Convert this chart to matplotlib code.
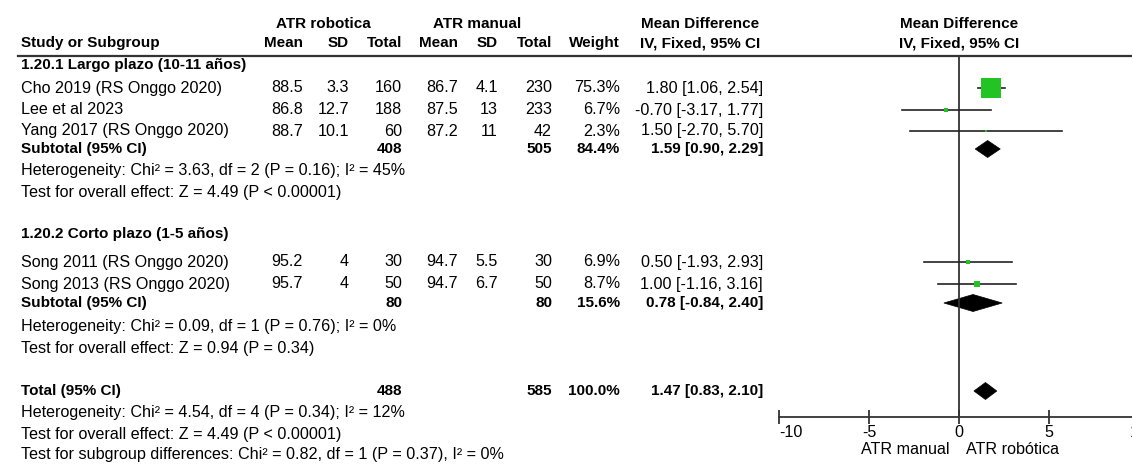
import matplotlib
matplotlib.use('Agg')
import matplotlib.pyplot as plt
from matplotlib.patches import Polygon
from matplotlib.lines import Line2D

plt.rcParams['font.family'] = ['Liberation Sans', 'DejaVu Sans']
plt.rcParams['axes.unicode_minus'] = False

# study level data
studies = ['Cho 2019 (RS Onggo 2020)', 'Lee et al 2023', 'Yang 2017 (RS Onggo 2020)',
           'Song 2011 (RS Onggo 2020)', 'Song 2013 (RS Onggo 2020)']
rob_mean = [88.5, 86.8, 88.7, 95.2, 95.7]
rob_sd = [3.3, 12.7, 10.1, 4, 4]
rob_n = [160, 188, 60, 30, 50]
man_mean = [86.7, 87.5, 87.2, 94.7, 94.7]
man_sd = [4.1, 13, 11, 5.5, 6.7]
man_n = [230, 233, 42, 30, 50]
weight = [75.3, 6.7, 2.3, 6.9, 8.7]
md = [1.80, -0.70, 1.50, 0.50, 1.00]
md_lo = [1.06, -3.17, -2.70, -1.93, -1.16]
md_hi = [2.54, 1.77, 5.70, 2.93, 3.16]

# subgroups
groups = ['1.20.1 Largo plazo (10-11 años)', '1.20.2 Corto plazo (1-5 años)']
sub_rob_n = [408, 80]
sub_man_n = [505, 80]
sub_weight = [84.4, 15.6]
sub_md = [1.59, 0.78]
sub_lo = [0.90, -0.84]
sub_hi = [2.29, 2.40]
sub_het = ['Heterogeneity: Chi² = 3.63, df = 2 (P = 0.16); I² = 45%',
           'Heterogeneity: Chi² = 0.09, df = 1 (P = 0.76); I² = 0%']
sub_z = ['Test for overall effect: Z = 4.49 (P < 0.00001)',
         'Test for overall effect: Z = 0.94 (P = 0.34)']

# overall
tot_rob_n = 488
tot_man_n = 585
tot_weight = 100.0
tot_md, tot_lo, tot_hi = 1.47, 0.83, 2.10
tot_notes = ['Heterogeneity: Chi² = 4.54, df = 4 (P = 0.34); I² = 12%',
             'Test for overall effect: Z = 4.49 (P < 0.00001)',
             'Test for subgroup differences: Chi² = 0.82, df = 1 (P = 0.37), I² = 0%']

# layout (pixel rows)
W, H = 1132, 468
fs = 11.6   # regular text
fb = 11     # bold text
study_y = [88, 110, 131, 262, 284]
group_y = [65, 234]
sub_y = [149, 303]
sub_note_y = [(170, 192), (326, 348)]
tot_y = 391
tot_note_y = [413, 434, 455]
col_x = [303, 349, 402, 458, 498, 552, 620, 763]

fig = plt.figure(figsize=(W / 100, H / 100), dpi=100)
ax = fig.add_axes([0, 0, 1, 1])
ax.set_xlim(0, W)
ax.set_ylim(H, 0)
ax.axis('off')


def ci_text(m, l, h):
    return '%.2f [%.2f, %.2f]' % (m, l, h)


# headers
ax.text(323, 24, 'ATR robotica', ha='center', va='center', fontsize=fb, weight='bold')
ax.text(477, 24, 'ATR manual', ha='center', va='center', fontsize=fb, weight='bold')
ax.text(700, 24, 'Mean Difference', ha='center', va='center', fontsize=fb, weight='bold')
ax.text(959, 24, 'Mean Difference', ha='center', va='center', fontsize=fb, weight='bold')
ax.text(21, 43, 'Study or Subgroup', ha='left', va='center', fontsize=fb, weight='bold')
for x, h in zip(col_x[:7], ['Mean', 'SD', 'Total', 'Mean', 'SD', 'Total', 'Weight']):
    ax.text(x, 43, h, ha='right', va='center', fontsize=fb, weight='bold')
ax.text(700, 43, 'IV, Fixed, 95% CI', ha='center', va='center', fontsize=fb, weight='bold')
ax.text(959, 43, 'IV, Fixed, 95% CI', ha='center', va='center', fontsize=fb, weight='bold')
ax.add_line(Line2D([18, W], [56, 56], color='#333333', lw=1.6))

# study rows
for i, name in enumerate(studies):
    y = study_y[i]
    vals = ['%.1f' % rob_mean[i], '%g' % rob_sd[i], str(rob_n[i]),
            '%.1f' % man_mean[i], '%g' % man_sd[i], str(man_n[i]),
            '%.1f%%' % weight[i], ci_text(md[i], md_lo[i], md_hi[i])]
    ax.text(21, y, name, ha='left', va='center', fontsize=fs)
    for x, v in zip(col_x, vals):
        ax.text(x, y, v, ha='right', va='center', fontsize=fs)

# subgroup rows
for g in range(len(groups)):
    ax.text(21, group_y[g], groups[g], ha='left', va='center', fontsize=fb, weight='bold')
    y = sub_y[g]
    ax.text(21, y, 'Subtotal (95% CI)', ha='left', va='center', fontsize=fb, weight='bold')
    for x, v in zip([col_x[2], col_x[5], col_x[6], col_x[7]],
                    [str(sub_rob_n[g]), str(sub_man_n[g]), '%.1f%%' % sub_weight[g],
                     ci_text(sub_md[g], sub_lo[g], sub_hi[g])]):
        ax.text(x, y, v, ha='right', va='center', fontsize=fb, weight='bold')
    ax.text(21, sub_note_y[g][0], sub_het[g], ha='left', va='center', fontsize=fs)
    ax.text(21, sub_note_y[g][1], sub_z[g], ha='left', va='center', fontsize=fs)

# total row
ax.text(21, tot_y, 'Total (95% CI)', ha='left', va='center', fontsize=fb, weight='bold')
for x, v in zip([col_x[2], col_x[5], col_x[6], col_x[7]],
                [str(tot_rob_n), str(tot_man_n), '%.1f%%' % tot_weight,
                 ci_text(tot_md, tot_lo, tot_hi)]):
    ax.text(x, tot_y, v, ha='right', va='center', fontsize=fb, weight='bold')
for y, t in zip(tot_note_y, tot_notes):
    ax.text(21, y, t, ha='left', va='center', fontsize=fs)

# forest panel: -10 at x=779, 0 at x=959, 10 at x=1139 (cut by the figure edge)
x0, x1 = 779, 1139
y0, y1 = 56, 417
fa = fig.add_axes([x0 / W, 1 - y1 / H, (x1 - x0) / W, (y1 - y0) / H])
fa.patch.set_alpha(0)
fa.set_xlim(-10, 10)
fa.set_ylim(y1, y0)
for s in ['top', 'right', 'left']:
    fa.spines[s].set_visible(False)
fa.spines['bottom'].set_color('#333333')
fa.spines['bottom'].set_linewidth(1.3)
fa.set_yticks([])
fa.set_xticks([-10, -5, 0, 5, 10])
fa.tick_params(axis='x', direction='inout', length=9.5, width=1.3, color='#333333',
               labelsize=fs, pad=1)
fa.get_xticklabels()[0].set_ha('left')
fa.axvline(0, color='#333333', lw=1.3)

for i in range(len(studies)):
    y = study_y[i]
    fa.plot([md_lo[i], md_hi[i]], [y, y], color='#222222', lw=1.2)
    side = 20 * (weight[i] / max(weight)) ** 0.6  # px
    fa.plot(md[i], y, marker='s', color='#22c322', ms=side * 0.72, mew=0, ls='none')


def diamond(m, l, h, y, hh=8.5):
    fa.add_patch(Polygon([[l, y], [m, y - hh], [h, y], [m, y + hh]], closed=True,
                         facecolor='black', edgecolor='black', lw=0.5))


for g in range(len(groups)):
    diamond(sub_md[g], sub_lo[g], sub_hi[g], sub_y[g])
diamond(tot_md, tot_lo, tot_hi, tot_y)

fig.text(950 / W, 1 - 449 / H, 'ATR manual', ha='right', va='center', fontsize=fs)
fig.text(966 / W, 1 - 449 / H, 'ATR robótica', ha='left', va='center', fontsize=fs)

fig.savefig('out.png', dpi=100)
